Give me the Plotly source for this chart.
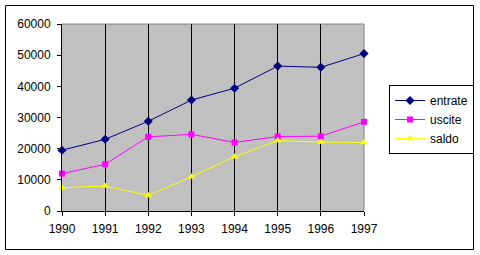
import plotly.graph_objects as go

years = [1990, 1991, 1992, 1993, 1994, 1995, 1996, 1997]
entrate = [19500, 23000, 28800, 35600, 39400, 46500, 46100, 50500]
uscite = [12000, 15000, 23800, 24600, 22000, 23900, 24000, 28600]
saldo = [7500, 8000, 5000, 11000, 17400, 22600, 22100, 22000]

W, H = 480, 255
L, R, T, B = 62, 116, 24, 44
pw, ph = W - L - R, H - T - B

font = dict(family="Liberation Sans, Arial, sans-serif", size=12, color="black")

fig = go.Figure()
fig.add_trace(go.Scatter(x=years, y=entrate, name="entrate", mode="lines+markers",
                         line=dict(color="#000080", width=1),
                         marker=dict(symbol="diamond", size=7, color="#000080"),
                         cliponaxis=False))
fig.add_trace(go.Scatter(x=years, y=uscite, name="uscite", mode="lines+markers",
                         line=dict(color="#FF00FF", width=1),
                         marker=dict(symbol="square", size=6, color="#FF00FF"),
                         cliponaxis=False))
fig.add_trace(go.Scatter(x=years, y=saldo, name="saldo", mode="lines+markers",
                         line=dict(color="#FFFF00", width=1),
                         marker=dict(symbol="triangle-up", size=7, color="#FFFF00"),
                         cliponaxis=False))

def px_x(p):
    return (p - L) / pw

def px_y(p):
    return (H - B - p) / ph

shapes = [
    # outer chart frame
    dict(type="rect", xref="paper", yref="paper",
         x0=px_x(5.5), x1=px_x(473.5), y0=px_y(249.5), y1=px_y(5.5),
         line=dict(color="black", width=1), fillcolor="rgba(0,0,0,0)", layer="below"),
    # plot area top and right borders (gray)
    dict(type="line", xref="paper", yref="paper", x0=0, x1=1, y0=1, y1=1,
         line=dict(color="#808080", width=1), layer="between"),
    dict(type="line", xref="paper", yref="paper", x0=1, x1=1, y0=0, y1=1,
         line=dict(color="#808080", width=1), layer="between"),
]

fig.update_layout(
    width=W, height=H,
    margin=dict(l=L, r=R, t=T, b=B, autoexpand=False),
    paper_bgcolor="white",
    plot_bgcolor="#C0C0C0",
    font=font,
    showlegend=True,
    legend=dict(xref="container", yref="container",
                x=389 / W, y=1 - 85 / H, xanchor="left", yanchor="top",
                bordercolor="black", borderwidth=1, bgcolor="white",
                font=font, tracegroupgap=0, itemwidth=30),
    shapes=shapes,
    xaxis=dict(range=[1990, 1997], tickmode="array", tickvals=years,
               ticktext=[str(y) for y in years],
               showgrid=True, gridcolor="black", gridwidth=1,
               showline=True, linecolor="black", linewidth=1,
               ticks="outside", ticklen=4, tickcolor="black",
               zeroline=False, ticklabelstandoff=3, fixedrange=True),
    yaxis=dict(range=[0, 60000], dtick=10000, tick0=0, tickformat="d",
               showgrid=False, showline=True, linecolor="black", linewidth=1,
               ticks="outside", ticklen=4, tickcolor="black",
               zeroline=False, ticklabelstandoff=4, fixedrange=True),
)

fig.write_html("out.html")
